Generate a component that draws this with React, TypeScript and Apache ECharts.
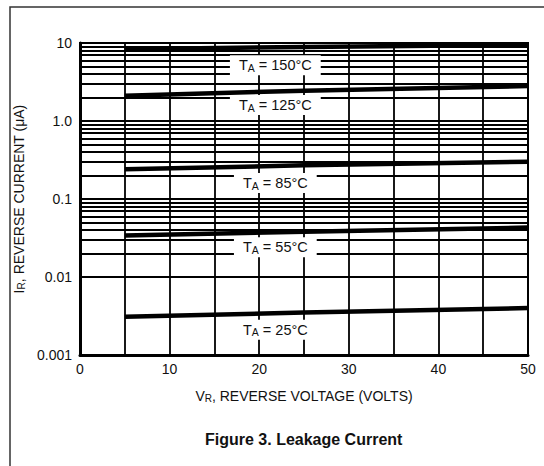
import React, { useEffect, useRef } from "react";
import * as echarts from "echarts";

// Data
const voltages = [5, 25, 50];
const current150 = [8.3, 8.9, 9.5];
const current125 = [2.1, 2.45, 2.8];
const current85 = [0.24, 0.27, 0.3];
const current55 = [0.034, 0.038, 0.043];
const current25 = [0.0031, 0.0035, 0.004];
const curveTemps = ["150", "125", "85", "55", "25"];
const curves = [current150, current125, current85, current55, current25];
const labelVoltage = 21.8;
const labelCurrents = [5.2, 1.6, 0.16, 0.024, 0.0021];
const xTickLabels = ["0", "10", "20", "30", "40", "50"];
const yTickLabels = ["0.001", "0.01", "0.1", "1.0", "10"];
const decades = [0.001, 0.01, 0.1, 1];
const minorMultipliers = [2, 3, 4, 5, 6, 7, 8, 9];

const FONT = "Liberation Sans, Arial, Helvetica, sans-serif";

export default function App() {
  const ref = useRef<HTMLDivElement>(null);
  useEffect(() => {
    if (!ref.current) return;
    const chart = echarts.init(ref.current, undefined, { renderer: "svg" });
    const minorValues: number[] = [];
    decades.forEach((d) => minorMultipliers.forEach((m) => minorValues.push(d * m)));

    const series: any[] = [
      {
        type: "line",
        name: "grid",
        data: [[0, 0.001]],
        showSymbol: false,
        symbol: "none",
        lineStyle: { opacity: 0 },
        silent: true,
        z: 1,
        markLine: {
          silent: true,
          symbol: ["none", "none"],
          label: { show: false },
          lineStyle: { color: "#000", width: 1.8, type: "solid" },
          data: minorValues.map((v) => ({ yAxis: v })),
        },
      },
    ];
    curves.forEach((vals, i) => {
      series.push({
        type: "line",
        name: "TA " + curveTemps[i],
        data: voltages.map((v, j) => [v, vals[j]]),
        symbol: "none",
        lineStyle: { color: "#000", width: 4.5 },
        z: 3,
        markPoint: {
          symbol: "rect",
          symbolSize: 0,
          silent: true,
          data: [{ coord: [labelVoltage, labelCurrents[i]] }],
          label: {
            show: true,
            position: "inside",
            formatter: "{m|T}{s|A}{m| = " + curveTemps[i] + "°C}",
            backgroundColor: "#fff",
            padding: [2, 9, 2, 9],
            rich: {
              m: { fontSize: 14.5, fontFamily: FONT, color: "#111", lineHeight: 16 },
              s: { fontSize: 10.5, fontFamily: FONT, color: "#111", verticalAlign: "bottom", lineHeight: 6 },
            },
          },
        },
      });
    });

    chart.setOption({
      animation: false,
      backgroundColor: "#fff",
      title: {
        text: "Figure 3. Leakage Current",
        left: 200,
        top: 426,
        textStyle: { fontSize: 16, fontWeight: "bold", fontFamily: FONT, color: "#111" },
      },
      graphic: [
        {
          type: "rect",
          shape: { x: 10, y: 7, width: 700, height: 600 },
          style: { fill: "none", stroke: "#333", lineWidth: 1.5 },
          silent: true,
        },
      ],
      grid: {
        left: 80,
        right: 16,
        top: 43,
        bottom: 111,
        show: true,
        borderColor: "#000",
        borderWidth: 2,
      },
      xAxis: {
        type: "value",
        min: 0,
        max: 50,
        interval: 5,
        name: "V{s|R}, REVERSE VOLTAGE (VOLTS)",
        nameLocation: "middle",
        nameGap: 34,
        nameTextStyle: {
          fontSize: 14,
          fontFamily: FONT,
          color: "#111",
          rich: {
            s: { fontSize: 10, fontFamily: FONT, color: "#111", verticalAlign: "bottom", lineHeight: 6 },
          },
        },
        axisLine: { show: true, lineStyle: { color: "#000", width: 3 } },
        axisTick: { show: false },
        axisLabel: {
          fontSize: 14,
          fontFamily: FONT,
          color: "#111",
          margin: 7,
          formatter: (v: number) => (v % 10 === 0 ? xTickLabels[v / 10] : ""),
        },
        splitLine: { show: true, lineStyle: { color: "#000", width: 1.8 } },
      },
      yAxis: {
        type: "log",
        logBase: 10,
        min: 0.001,
        max: 10,
        name: "I{s|R}, REVERSE CURRENT (μA)",
        nameLocation: "middle",
        nameGap: 52,
        nameTextStyle: {
          fontSize: 14,
          fontFamily: FONT,
          color: "#111",
          rich: {
            s: { fontSize: 10, fontFamily: FONT, color: "#111", verticalAlign: "bottom", lineHeight: 6 },
          },
        },
        axisLine: { show: true, lineStyle: { color: "#000", width: 3 } },
        axisTick: { show: false },
        axisLabel: {
          fontSize: 14,
          fontFamily: FONT,
          color: "#111",
          margin: 8,
          formatter: (v: number) => yTickLabels[Math.round(Math.log10(v)) + 3] ?? "",
        },
        splitLine: { show: true, lineStyle: { color: "#000", width: 2.2 } },
      },
      series,
    });
    return () => chart.dispose();
  }, []);
  return (
    <div
      ref={ref}
      style={{ position: "fixed", left: 0, top: 0, width: 544, height: 466, background: "#fff" }}
    />
  );
}
